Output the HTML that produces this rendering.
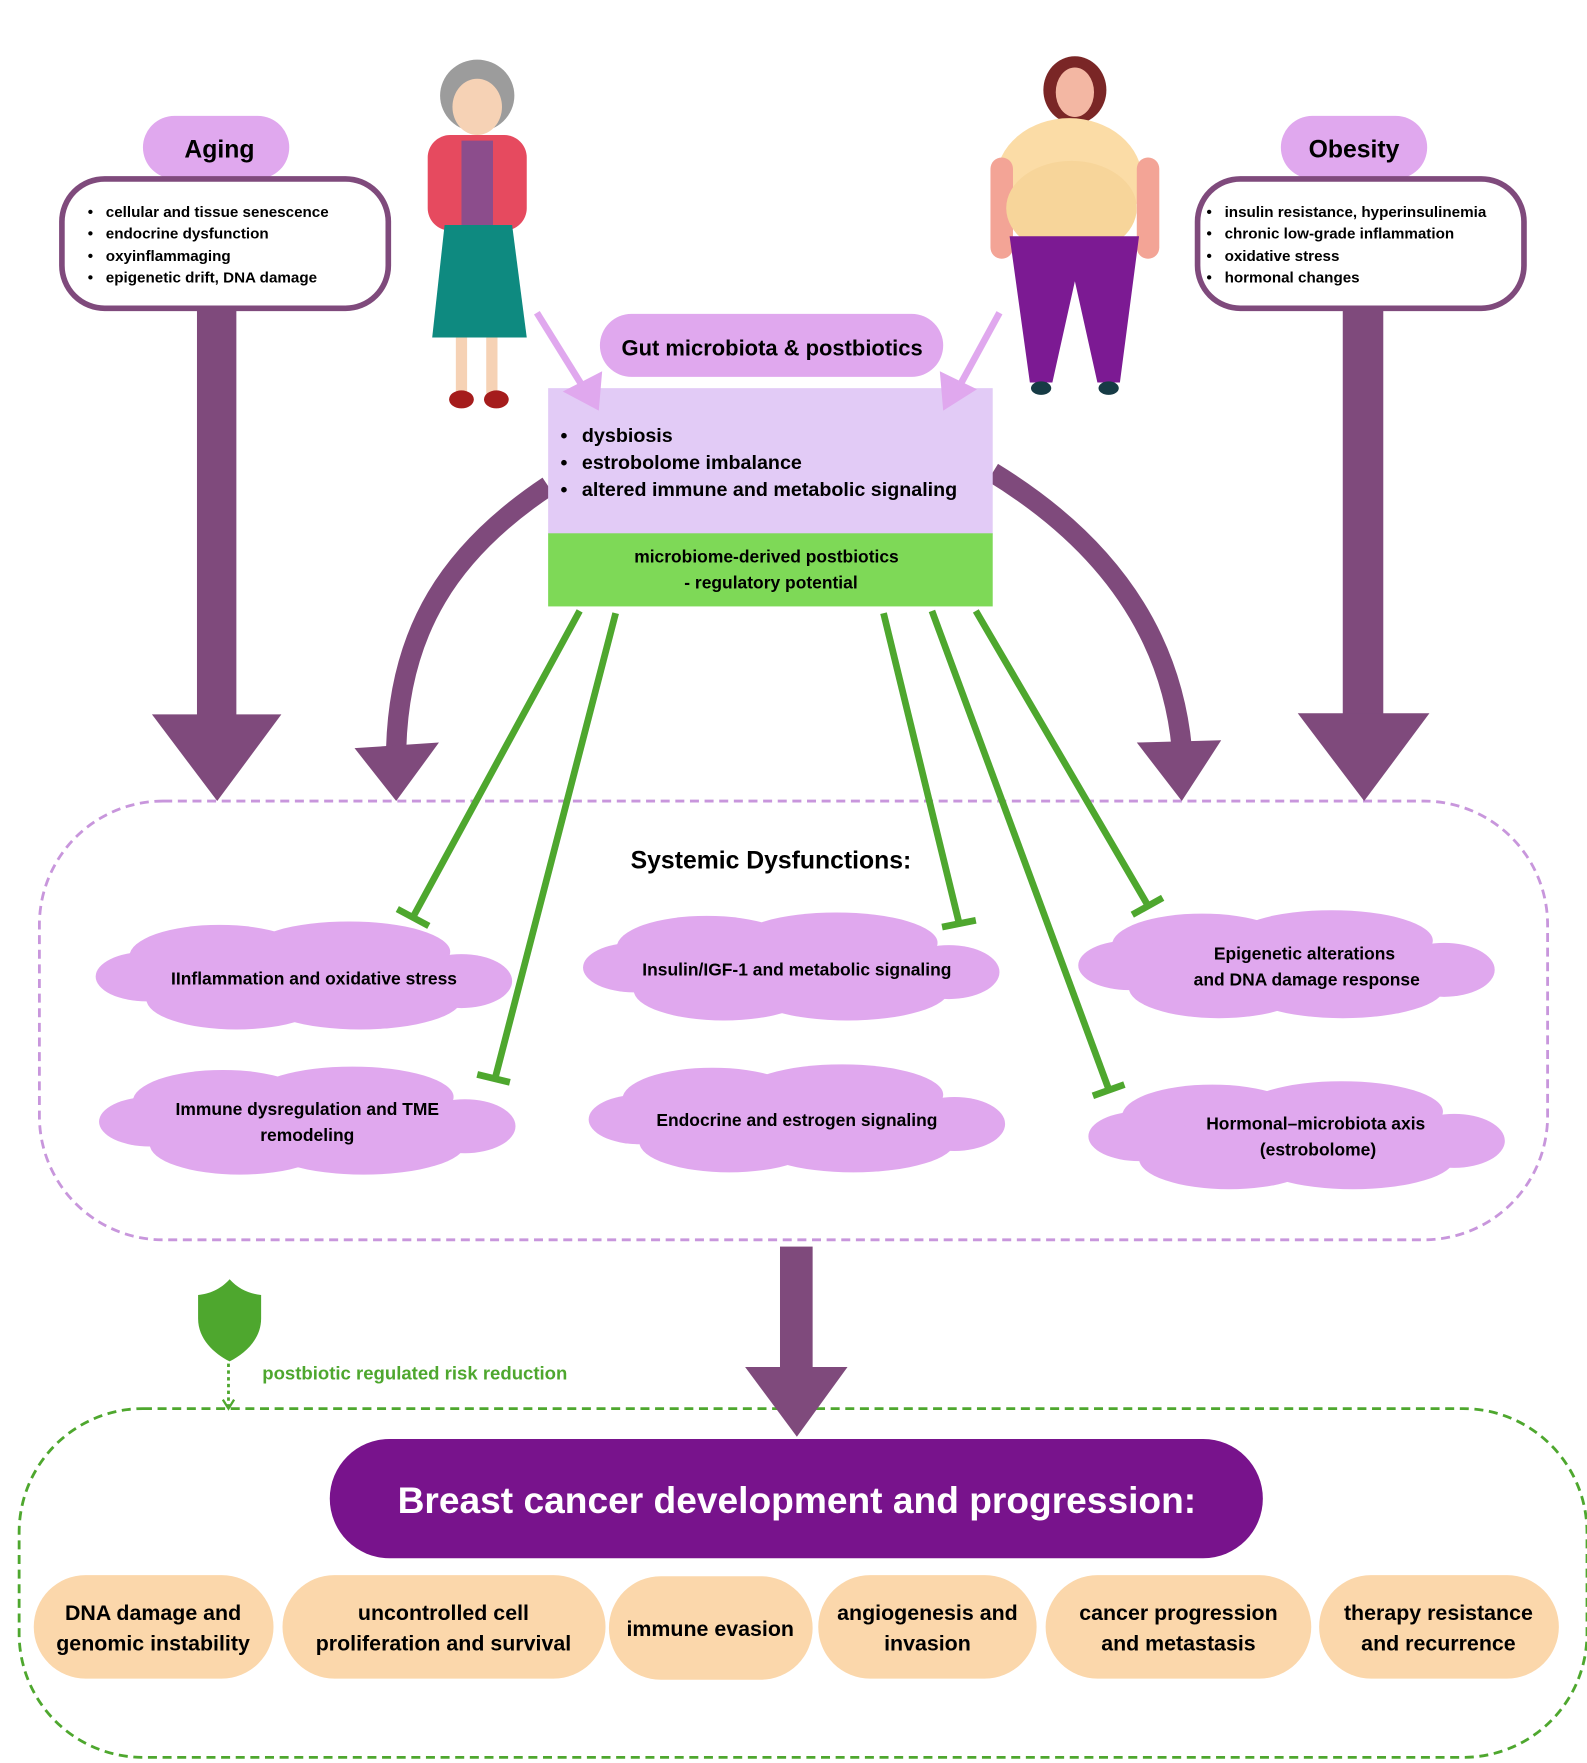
<!DOCTYPE html>
<html><head><meta charset="utf-8"><style>
html,body{margin:0;padding:0;background:#fff}
svg{display:block}
text{font-family:"Liberation Sans",sans-serif;font-weight:bold}
</style></head><body>
<svg width="1587" height="1763" viewBox="0 0 1410 1567" preserveAspectRatio="none" xmlns="http://www.w3.org/2000/svg">
<defs>
<g id="cloud">
<ellipse cx="0" cy="0" rx="170" ry="28"/>
<ellipse cx="-75" cy="-18" rx="80" ry="28"/>
<ellipse cx="40" cy="-22" rx="90" ry="27"/>
<ellipse cx="-60" cy="20" rx="80" ry="27"/>
<ellipse cx="50" cy="20" rx="90" ry="27"/>
<ellipse cx="-140" cy="0" rx="45" ry="22"/>
<ellipse cx="140" cy="4" rx="45" ry="24"/>
</g>
</defs>
<rect x="35" y="712" width="1340" height="390" rx="110" fill="none" stroke="#c896dc" stroke-width="2.5" stroke-dasharray="8,5"/>
<rect x="17" y="1252" width="1393" height="310" rx="110" fill="none" stroke="#4ea72e" stroke-width="2.5" stroke-dasharray="8,5"/>

<rect x="127" y="103" width="130" height="56" rx="28" fill="#e0a8ee"/>
<text x="195" y="140" font-size="22" text-anchor="middle">Aging</text>
<rect x="55" y="159" width="290" height="115" rx="38" fill="#fff" stroke="#7f4a7c" stroke-width="5"/>
<g font-size="13.5"><text x="78" y="193">•</text><text x="94" y="193">cellular and tissue senescence</text>
<text x="78" y="212">•</text><text x="94" y="212">endocrine dysfunction</text>
<text x="78" y="232">•</text><text x="94" y="232">oxyinflammaging</text>
<text x="78" y="251">•</text><text x="94" y="251">epigenetic drift, DNA damage</text></g>
<rect x="175" y="276" width="35" height="360" fill="#7f4a7c"/>
<polygon points="135,635 250,635 193,712" fill="#7f4a7c"/>

<rect x="1138" y="103" width="130" height="56" rx="28" fill="#e0a8ee"/>
<text x="1203" y="140" font-size="22" text-anchor="middle">Obesity</text>
<rect x="1064" y="159" width="290" height="115" rx="38" fill="#fff" stroke="#7f4a7c" stroke-width="5"/>
<g font-size="13.5"><text x="1072" y="193">•</text><text x="1088" y="193">insulin resistance, hyperinsulinemia</text>
<text x="1072" y="212">•</text><text x="1088" y="212">chronic low-grade inflammation</text>
<text x="1072" y="232">•</text><text x="1088" y="232">oxidative stress</text>
<text x="1072" y="251">•</text><text x="1088" y="251">hormonal changes</text></g>
<rect x="1193" y="276" width="36" height="360" fill="#7f4a7c"/>
<polygon points="1153,634 1270,634 1212,712" fill="#7f4a7c"/>

<g>
<ellipse cx="424" cy="85" rx="33" ry="32" fill="#9c9c9c"/>
<ellipse cx="424" cy="95" rx="22" ry="25" fill="#f6d2b5"/>
<rect x="380" y="120" width="88" height="85" rx="20" fill="#e64a5f"/>
<rect x="410" y="125" width="28" height="80" fill="#8c4d8c"/>
<path d="M395 200 L455 200 L468 300 L384 300 Z" fill="#0e8a80"/>
<rect x="405" y="300" width="10" height="50" fill="#f6d2b5"/><rect x="432" y="300" width="10" height="50" fill="#f6d2b5"/>
<ellipse cx="410" cy="355" rx="11" ry="8" fill="#a51c1c"/><ellipse cx="441" cy="355" rx="11" ry="8" fill="#a51c1c"/>
</g>
<g>
<ellipse cx="955" cy="80" rx="28" ry="30" fill="#7a2626"/>
<ellipse cx="955" cy="82" rx="17" ry="22" fill="#f3b7a3"/>
<ellipse cx="950" cy="160" rx="65" ry="55" fill="#fbdca6"/>
<rect x="880" y="140" width="20" height="90" rx="10" fill="#f3a496"/><rect x="1010" y="140" width="20" height="90" rx="10" fill="#f3a496"/>
<ellipse cx="952" cy="185" rx="58" ry="42" fill="#f7d59a"/>
<path d="M897 210 L1012 210 L995 340 L975 340 L955 250 L935 340 L915 340 Z" fill="#7c1a93"/>
<ellipse cx="925" cy="345" rx="9" ry="6" fill="#163b45"/><ellipse cx="985" cy="345" rx="9" ry="6" fill="#163b45"/>
</g>

<path d="M487 432 C400 490 355 560 352 665" fill="none" stroke="#7f4a7c" stroke-width="18"/>
<polygon points="315,665 390,660 352,712" fill="#7f4a7c"/>
<path d="M882 420 C980 480 1040 560 1050 665" fill="none" stroke="#7f4a7c" stroke-width="18"/>
<polygon points="1010,660 1085,658 1050,712" fill="#7f4a7c"/>

<rect x="487" y="345" width="395" height="130" fill="#e2cbf6"/>
<rect x="487" y="474" width="395" height="65" fill="#7ed957"/>
<rect x="533" y="279" width="305" height="56" rx="28" fill="#e0a8ee"/>
<text x="686" y="316" font-size="19.5" text-anchor="middle">Gut microbiota &amp; postbiotics</text>

<line x1="477" y1="278" x2="518" y2="344" stroke="#e0a8ee" stroke-width="6"/>
<polygon points="500,348 535,330 532,365" fill="#e0a8ee"/>
<line x1="888" y1="278" x2="852" y2="344" stroke="#e0a8ee" stroke-width="6"/>
<polygon points="868,346 835,330 838,365" fill="#e0a8ee"/>

<g font-size="17.5"><text x="498" y="393">•</text><text x="517" y="393">dysbiosis</text>
<text x="498" y="417">•</text><text x="517" y="417">estrobolome imbalance</text>
<text x="498" y="441">•</text><text x="517" y="441">altered immune and metabolic signaling</text></g>
<text x="681" y="500" font-size="15.5" text-anchor="middle">microbiome-derived postbiotics</text>
<text x="685" y="523" font-size="15.5" text-anchor="middle">- regulatory potential</text>

<g stroke="#4ea72e" stroke-width="6" fill="none">
<line x1="515" y1="543" x2="367" y2="815"/><line x1="353" y1="808" x2="381" y2="823"/>
<line x1="547" y1="545" x2="440" y2="958"/><line x1="424" y1="955" x2="453" y2="962"/>
<line x1="785" y1="545" x2="852" y2="820"/><line x1="837" y1="824" x2="867" y2="818"/>
<line x1="828" y1="543" x2="985" y2="968"/><line x1="971" y1="974" x2="999" y2="964"/>
<line x1="867" y1="543" x2="1020" y2="805"/><line x1="1006" y1="813" x2="1033" y2="798"/>
</g>

<text x="685" y="772" font-size="22" text-anchor="middle">Systemic Dysfunctions:</text>

<g fill="#e0a8ee">
<use href="#cloud" transform="translate(270,868)"/>
<use href="#cloud" transform="translate(703,860)"/>
<use href="#cloud" transform="translate(1143,858)"/>
<use href="#cloud" transform="translate(273,997)"/>
<use href="#cloud" transform="translate(708,995)"/>
<use href="#cloud" transform="translate(1152,1010)"/>
</g>
<g font-size="15.5" text-anchor="middle">
<text x="279" y="875">IInflammation and oxidative stress</text>
<text x="708" y="867">Insulin/IGF-1 and metabolic signaling</text>
<text x="1159" y="853">Epigenetic alterations</text><text x="1161" y="876">and DNA damage response</text>
<text x="273" y="991">Immune dysregulation and TME</text><text x="273" y="1014">remodeling</text>
<text x="708" y="1001">Endocrine and estrogen signaling</text>
<text x="1169" y="1004">Hormonal–microbiota axis</text><text x="1171" y="1027">(estrobolome)</text>
</g>

<rect x="693" y="1108" width="29" height="108" fill="#7f4a7c"/>
<polygon points="662,1215 753,1215 708,1277" fill="#7f4a7c"/>

<path d="M204 1137 C196 1146 186 1150 176 1151 L176 1172 C176 1190 190 1203 204 1210 C218 1203 232 1190 232 1172 L232 1151 C222 1150 212 1146 204 1137 Z" fill="#4ea72e"/>
<line x1="203" y1="1212" x2="203" y2="1250" stroke="#4ea72e" stroke-width="2.5" stroke-dasharray="3,3"/>
<polyline points="198,1244 203,1252 208,1244" fill="none" stroke="#4ea72e" stroke-width="2"/>
<text x="233" y="1226" font-size="16.5" fill="#4ea72e">postbiotic regulated risk reduction</text>

<rect x="293" y="1279" width="829" height="106" rx="53" fill="#78138c"/>
<text x="708" y="1345" font-size="33" fill="#fff" text-anchor="middle">Breast cancer development and progression:</text>
<g fill="#fbd7ab">
<rect x="30" y="1400" width="213" height="92" rx="46"/>
<rect x="251" y="1400" width="287" height="92" rx="46"/>
<rect x="541" y="1401" width="181" height="92" rx="46"/>
<rect x="727" y="1400" width="194" height="92" rx="46"/>
<rect x="929" y="1400" width="236" height="92" rx="46"/>
<rect x="1172" y="1400" width="213" height="92" rx="46"/>
</g>
<g font-size="19" text-anchor="middle">
<text x="136" y="1440">DNA damage and</text><text x="136" y="1467">genomic instability</text>
<text x="394" y="1440">uncontrolled cell</text><text x="394" y="1467">proliferation and survival</text>
<text x="631" y="1454">immune evasion</text>
<text x="824" y="1440">angiogenesis and</text><text x="824" y="1467">invasion</text>
<text x="1047" y="1440">cancer progression</text><text x="1047" y="1467">and metastasis</text>
<text x="1278" y="1440">therapy resistance</text><text x="1278" y="1467">and recurrence</text>
</g>
</svg>
</body></html>
